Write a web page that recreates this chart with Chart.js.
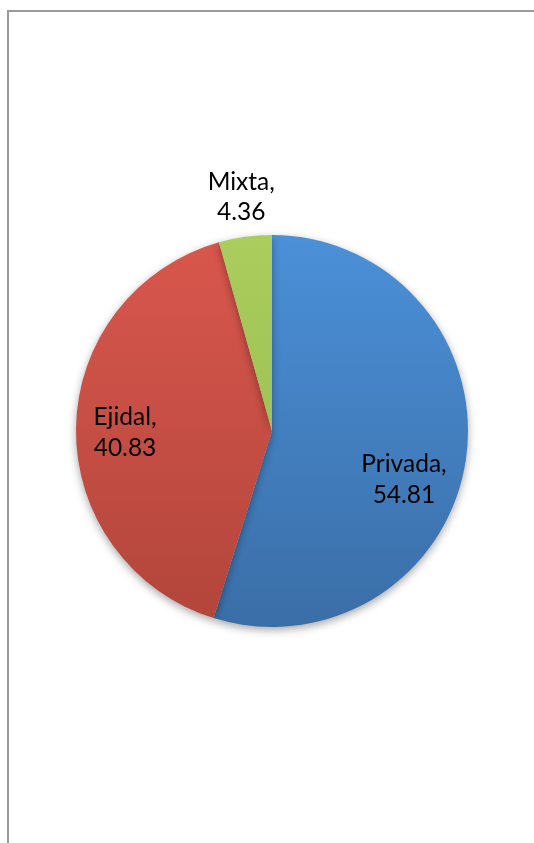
<!DOCTYPE html>
<html>
<head>
<meta charset="utf-8">
<script src="https://cdn.jsdelivr.net/npm/chart.js@4/dist/chart.umd.min.js"></script>
<style>
  html, body { margin: 0; padding: 0; background: #fff; }
  body { width: 534px; height: 843px; overflow: hidden; position: relative; }
  .frame {
    position: absolute; left: 7px; top: 10px; width: 600px; height: 900px;
    border-left: 2px solid #9a9a9a; border-top: 2px solid #9a9a9a;
  }
  #chart { position: absolute; left: 0; top: 0; }
</style>
</head>
<body>
<div class="frame"></div>
<canvas id="chart" width="534" height="843"></canvas>
<script>
// ── Data ────────────────────────────────────────────────
var categories = ["Privada", "Ejidal", "Mixta"];
var shares     = [54.81, 40.83, 4.36];

// gradient stops per slice (top colour, bottom colour)
var topColors    = ["#4b90d8", "#d9574d", "#aacd5d"];
var bottomColors = ["#3a6ea7", "#b2453b", "#93b94b"];

// label placement: radius as a fraction of the pie radius, angle tweak in degrees
var labelRadius = [0.715, 0.75, 1.21];
var labelTurn   = [11, -1, 0.4];

function sliceFill(ctx) {
  var chart = ctx.chart;
  var area = chart.chartArea;
  if (!area) return topColors[ctx.dataIndex];
  var g = chart.ctx.createLinearGradient(0, area.top, 0, area.bottom);
  g.addColorStop(0, topColors[ctx.dataIndex]);
  g.addColorStop(1, bottomColors[ctx.dataIndex]);
  return g;
}

// soft drop shadow under the pie
var pieShadow = {
  id: "pieShadow",
  beforeDatasetDraw: function(chart) {
    var c = chart.ctx;
    c.save();
    c.shadowColor = "rgba(0,0,0,0.35)";
    c.shadowBlur = 8;
    c.shadowOffsetY = 3;
  },
  afterDatasetDraw: function(chart) {
    chart.ctx.restore();
  }
};

// "Name, value" labels on two lines
var sliceLabels = {
  id: "sliceLabels",
  afterDraw: function(chart) {
    var c = chart.ctx;
    var arcs = chart.getDatasetMeta(0).data;
    c.save();
    c.fillStyle = "#000";
    c.font = "24.5px Lato, 'Open Sans', sans-serif";
    c.textAlign = "center";
    c.textBaseline = "alphabetic";
    arcs.forEach(function(arc, i) {
      var mid = (arc.startAngle + arc.endAngle) / 2 + labelTurn[i] * Math.PI / 180;
      var r = arc.outerRadius * labelRadius[i];
      var x = arc.x + Math.cos(mid) * r;
      var y = arc.y + Math.sin(mid) * r;
      c.fillText(categories[i] + ",", x, y - 6);
      c.fillText(shares[i].toFixed(2), x, y + 24.5);
    });
    c.restore();
  }
};

new Chart(document.getElementById("chart"), {
  type: "pie",
  data: {
    labels: categories,
    datasets: [{
      data: shares,
      backgroundColor: sliceFill,
      borderWidth: 0
    }]
  },
  options: {
    responsive: false,
    animation: false,
    layout: { padding: { left: 76, right: 66, top: 235, bottom: 216 } },
    plugins: {
      legend: { display: false },
      tooltip: { enabled: false }
    }
  },
  plugins: [pieShadow, sliceLabels]
});
</script>
</body>
</html>
